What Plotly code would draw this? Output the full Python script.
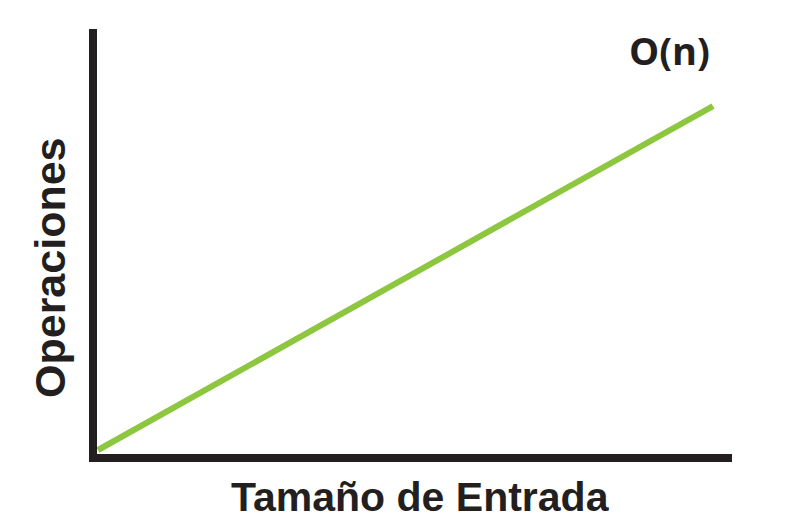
import plotly.graph_objects as go

# Data: linear growth O(n)
tamano_entrada = [0, 100]
operaciones = [0, 100]

x_title = "Tamaño de Entrada"
y_title = "Operaciones"
label = "O(n)"

W, H = 800, 523
L, R, T, B = 97, 68, 29, 69
pw, ph = W - L - R, H - T - B

fig = go.Figure()
fig.add_trace(go.Scatter(
    x=tamano_entrada, y=operaciones, mode="lines",
    line=dict(color="#8DC63F", width=6), hoverinfo="skip", showlegend=False,
))

fig.update_layout(
    width=W, height=H,
    margin=dict(l=L, r=R, t=T, b=B, pad=0),
    paper_bgcolor="white", plot_bgcolor="white",
    xaxis=dict(range=[-0.16, 103.09], showgrid=False, zeroline=False,
               showticklabels=False, ticks="", showline=True,
               linecolor="#231F20", linewidth=8, fixedrange=True),
    yaxis=dict(range=[-1.16, 122.39], showgrid=False, zeroline=False,
               showticklabels=False, ticks="", showline=True,
               linecolor="#231F20", linewidth=8, fixedrange=True),
    annotations=[
        dict(text=label, xref="paper", yref="paper",
             x=(669 - L) / pw, y=(T + ph - 50) / ph, xanchor="center", yanchor="middle",
             showarrow=False, font=dict(family="Open Sans", size=38, color="#231F20", weight="bold")),
        dict(text=x_title, xref="paper", yref="paper",
             x=(420 - L) / pw, y=(T + ph - 497) / ph, xanchor="center", yanchor="middle",
             showarrow=False, font=dict(family="Liberation Sans", size=41, color="#231F20", weight="bold")),
        dict(text=y_title, xref="paper", yref="paper", textangle=-90,
             x=(50 - L) / pw, y=(T + ph - 268) / ph, xanchor="center", yanchor="middle",
             showarrow=False, font=dict(family="Liberation Sans", size=43, color="#231F20", weight="bold")),
    ],
)

fig.write_html("out.html")
